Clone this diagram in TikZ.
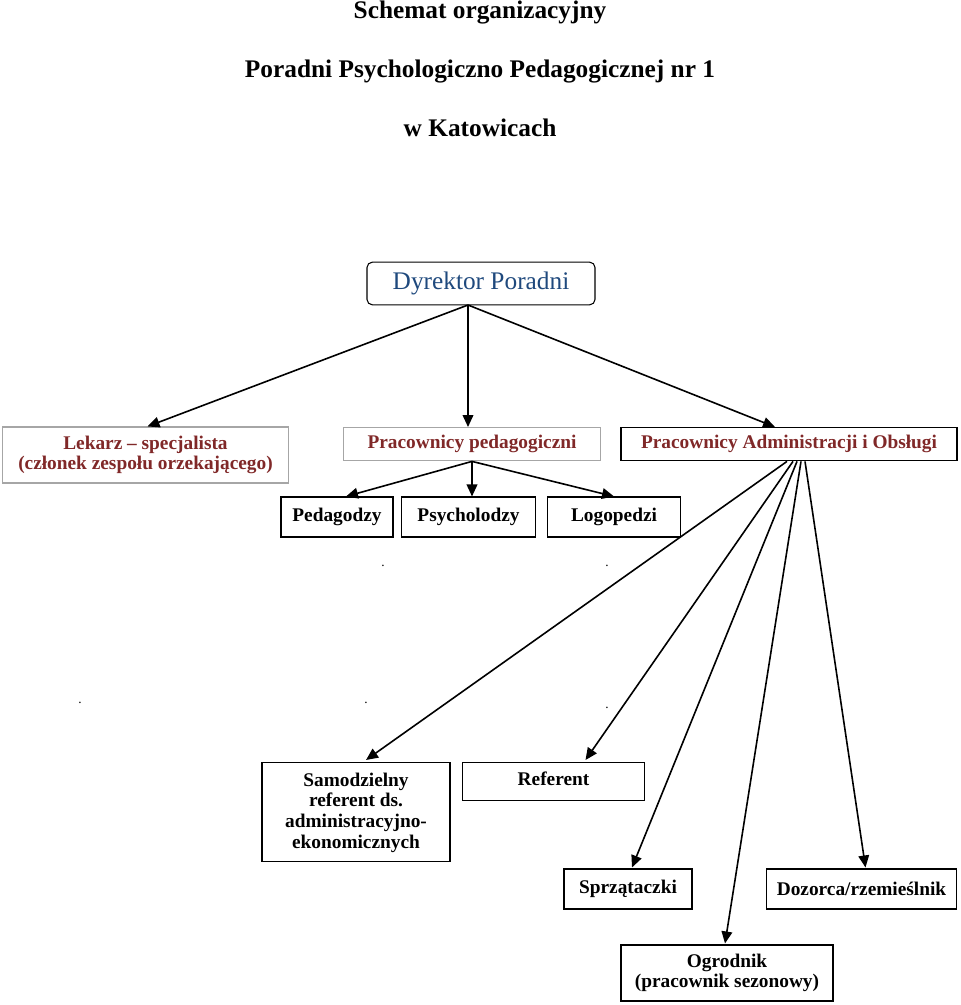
\documentclass[tikz,border=0pt]{standalone}
\usepackage{fontspec}
\setmainfont{Liberation Serif}
\usetikzlibrary{arrows.meta,calc}
\definecolor{dirblue}{RGB}{31,73,125}
\definecolor{boxred}{RGB}{128,40,40}
\tikzset{
  box/.style={draw, thick, inner sep=0pt, font=\bfseries\fontsize{14.5}{15.5}\selectfont, align=center},
  graybox/.style={box, draw=gray!70, text=boxred},
  title/.style={font=\bfseries\fontsize{19}{22}\selectfont},
  dot/.style={font=\normalsize},
  arr/.style={-{Triangle[length=9pt,width=8pt]}, line width=1.2pt}
}
\begin{document}
\begin{tikzpicture}[x=0.75pt,y=-0.75pt]
\useasboundingbox (0,0) rectangle (960,1005);
\node[title] (t1) at (480,13) {Schemat organizacyjny};
\node[title] (t2) at (480,72) {Poradni Psychologiczno Pedagogicznej nr 1};
\node[title] (t3) at (480,128) {w Katowicach};

\node[box, rounded corners=4pt, text=dirblue, minimum width=171pt, minimum height=32pt,
      font=\fontsize{19}{22}\selectfont] (dyr) at (481,283.5) {Dyrektor Poradni};
\coordinate (dyrb) at (468,305);
\node[graybox, minimum width=214pt, minimum height=42pt] (lek) at (145.5,455)
  {Lekarz -- specjalista\\(członek zespołu orzekającego)};
\node[graybox, minimum width=193pt, minimum height=25pt, anchor=north] (ped) at (472,427)
  {\raisebox{3pt}{Pracownicy pedagogiczni}};
\node[box, text=boxred, minimum width=252pt, minimum height=25pt, anchor=north] (adm) at (789,427)
  {\raisebox{0pt}{Pracownicy Administracji i Obsługi}};

\node[box, minimum width=84pt, minimum height=30pt] (pgd) at (337,517) {Pedagodzy};
\node[box, minimum width=100pt, minimum height=30pt] (psy) at (468.5,517) {Psycholodzy};
\node[box, minimum width=100pt, minimum height=30pt] (log) at (614,517) {Logopedzi};

\node[dot] (d1) at (383,566) {.};
\node[dot] (d2) at (607,566) {.};
\node[dot] (d3) at (80,703) {.};
\node[dot] (d4) at (366,703) {.};
\node[dot] (d5) at (607,708) {.};

\node[box, minimum width=141pt, minimum height=74pt, anchor=north] (sam) at (356,762)
  {\rule{0pt}{11pt}Samodzielny\\referent ds.\\administracyjno-\\ekonomicznych};
\node[box, minimum width=136pt, minimum height=28.5pt, anchor=north] (ref) at (553.5,762)
  {\raisebox{5pt}{Referent}};
\node[box, minimum width=96pt, minimum height=30pt] (spr) at (628,889) {Sprzątaczki};
\node[box, minimum width=143pt, minimum height=30pt] (doz) at (861.5,889) {Dozorca/rzemieślnik};
\node[box, minimum width=159pt, minimum height=42pt] (ogr) at (727,973)
  {Ogrodnik\\(pracownik sezonowy)};

% Dyrektor -> first level
\draw[arr] (dyrb) -- ($(lek.north)+(2,0)$);
\draw[arr] (dyrb) -- (ped.north -| dyrb);
\draw[arr] (dyrb) -- ($(adm.north)+(-14,0)$);
% pedagogical staff
\draw[arr] (ped.south) -- ($(pgd.north)+(9,0)$);
\draw[arr] (ped.south) -- (psy.north -| ped.south);
\draw[arr] (ped.south) -- (log.north);
% administration and service
\draw[arr] ($(adm.south)+(-2,0)$) -- ($(sam.north)+(10,-2)$);
\draw[arr] ($(adm.south)+(4,0)$) -- ($(ref.north)+(32,-2)$);
\draw[arr] ($(adm.south)+(8,0)$) -- ($(spr.north)+(4,-1)$);
\draw[arr] ($(adm.south)+(12,0)$) -- ($(ogr.north)+(-2,-1)$);
\draw[arr] ($(adm.south)+(16,0)$) -- ($(doz.north)+(4,-1)$);
\end{tikzpicture}
\end{document}
